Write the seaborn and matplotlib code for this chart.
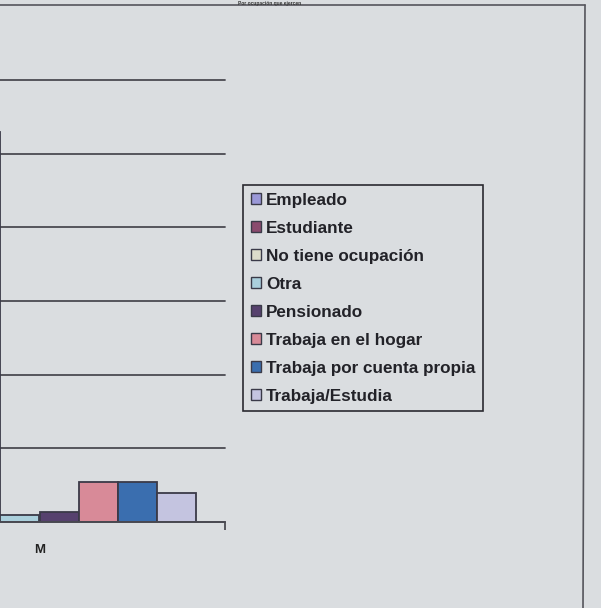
import numpy as np
import pandas as pd
import matplotlib
matplotlib.use("Agg")
import matplotlib.pyplot as plt
from matplotlib.patches import Patch
from matplotlib.lines import Line2D
import seaborn as sns

categories = ["M"]
occupations = ["Empleado", "Estudiante", "No tiene ocupación", "Otra",
               "Pensionado", "Trabaja en el hogar", "Trabaja por cuenta propia",
               "Trabaja/Estudia"]
# Empleado / Estudiante bars fall outside the photographed region
values_M = [np.nan, np.nan, 53.0, 0.9, 1.35, 5.4, 5.4, 4.0]
colors = ["#9a98d8", "#8a4a6e", "#dcdccb", "#aacfdc", "#56416e",
          "#d88a98", "#3a6eaf", "#c4c4e0"]
y_ticks = [0, 10, 20, 30, 40, 50, 60]
title_text = "Por ocupación que ejercen"

df = pd.DataFrame({"sexo": categories * len(occupations),
                   "ocupacion": occupations,
                   "valor": values_M})

BG = "#dadde0"
EDGE = "#3a3a48"
W, H = 601, 608
sns.set_theme(style="white")
plt.rcParams["font.family"] = ["Liberation Sans", "DejaVu Sans"]

fig = plt.figure(figsize=(W / 100, H / 100), dpi=100, facecolor=BG)

# axes placed in pixel terms (left part of plot lies outside the photo)
ax_left, ax_right = -146, 225
ax_top, ax_bottom = 80, 522
ax = fig.add_axes([ax_left / W, 1 - ax_bottom / H,
                   (ax_right - ax_left) / W, (ax_bottom - ax_top) / H])
ax.set_facecolor(BG)

sns.barplot(data=df, x="sexo", y="valor", hue="ocupacion", order=categories,
            hue_order=occupations, palette=colors, width=0.841, saturation=1,
            edgecolor=EDGE, linewidth=1.3, legend=False, ax=ax, errorbar=None)

ax.set_xlim(-0.5, 0.5)
ax.set_ylim(0, 60)
ax.set_yticks(y_ticks)
ax.set_yticklabels([])
ax.yaxis.grid(True, color="#4a4a52", linewidth=1.3)
for gl in ax.yaxis.get_gridlines():
    gl.set_clip_on(False)
ax.set_axisbelow(True)
for s in ["top", "right", "left"]:
    ax.spines[s].set_visible(False)
ax.spines["bottom"].set_color("#4a4a52")
ax.spines["bottom"].set_linewidth(1.3)
ax.set_xlabel("")
ax.set_ylabel("")
ax.tick_params(axis="x", length=0, pad=16, labelsize=9.5, labelcolor="#222222")
for t in ax.get_xticklabels():
    t.set_fontweight("bold")
ax.set_xticks([-0.5, 0.5], minor=True)
ax.tick_params(axis="x", which="minor", length=6, width=1.3, color="#4a4a52",
               direction="out", bottom=True)
ax.tick_params(axis="y", length=0)

# chart-area border (top and right edges visible in photo)
fig.add_artist(Line2D([0, 585 / W], [1 - 5 / H, 1 - 5 / H],
                      transform=fig.transFigure, color="#55555c", linewidth=1.2))
fig.add_artist(Line2D([585 / W, 583 / W], [1 - 5 / H, 0],
                      transform=fig.transFigure, color="#55555c", linewidth=1.2))

# title (only its lower part shows in the photo) kept small above the border
fig.text(270 / W, 1 - 0.5 / H, title_text, ha="center", va="top",
         fontsize=3.5, fontweight="bold", color="#333333")

handles = [Patch(facecolor=c, edgecolor=EDGE, linewidth=1.0) for c in colors]
leg = fig.legend(handles, occupations, loc="upper left",
                 bbox_to_anchor=(243 / W, 1 - 185 / H),
                 frameon=True, fancybox=False, facecolor=BG, edgecolor="#2a2a30",
                 framealpha=1, prop={"weight": "bold", "size": 12.3},
                 handlelength=0.6, handleheight=0.6, handletextpad=0.3,
                 labelspacing=0.76, borderpad=0.45, borderaxespad=0)
leg.get_frame().set_linewidth(1.2)
for t in leg.get_texts():
    t.set_color("#222228")

fig.savefig("out.png", dpi=100, facecolor=BG)
